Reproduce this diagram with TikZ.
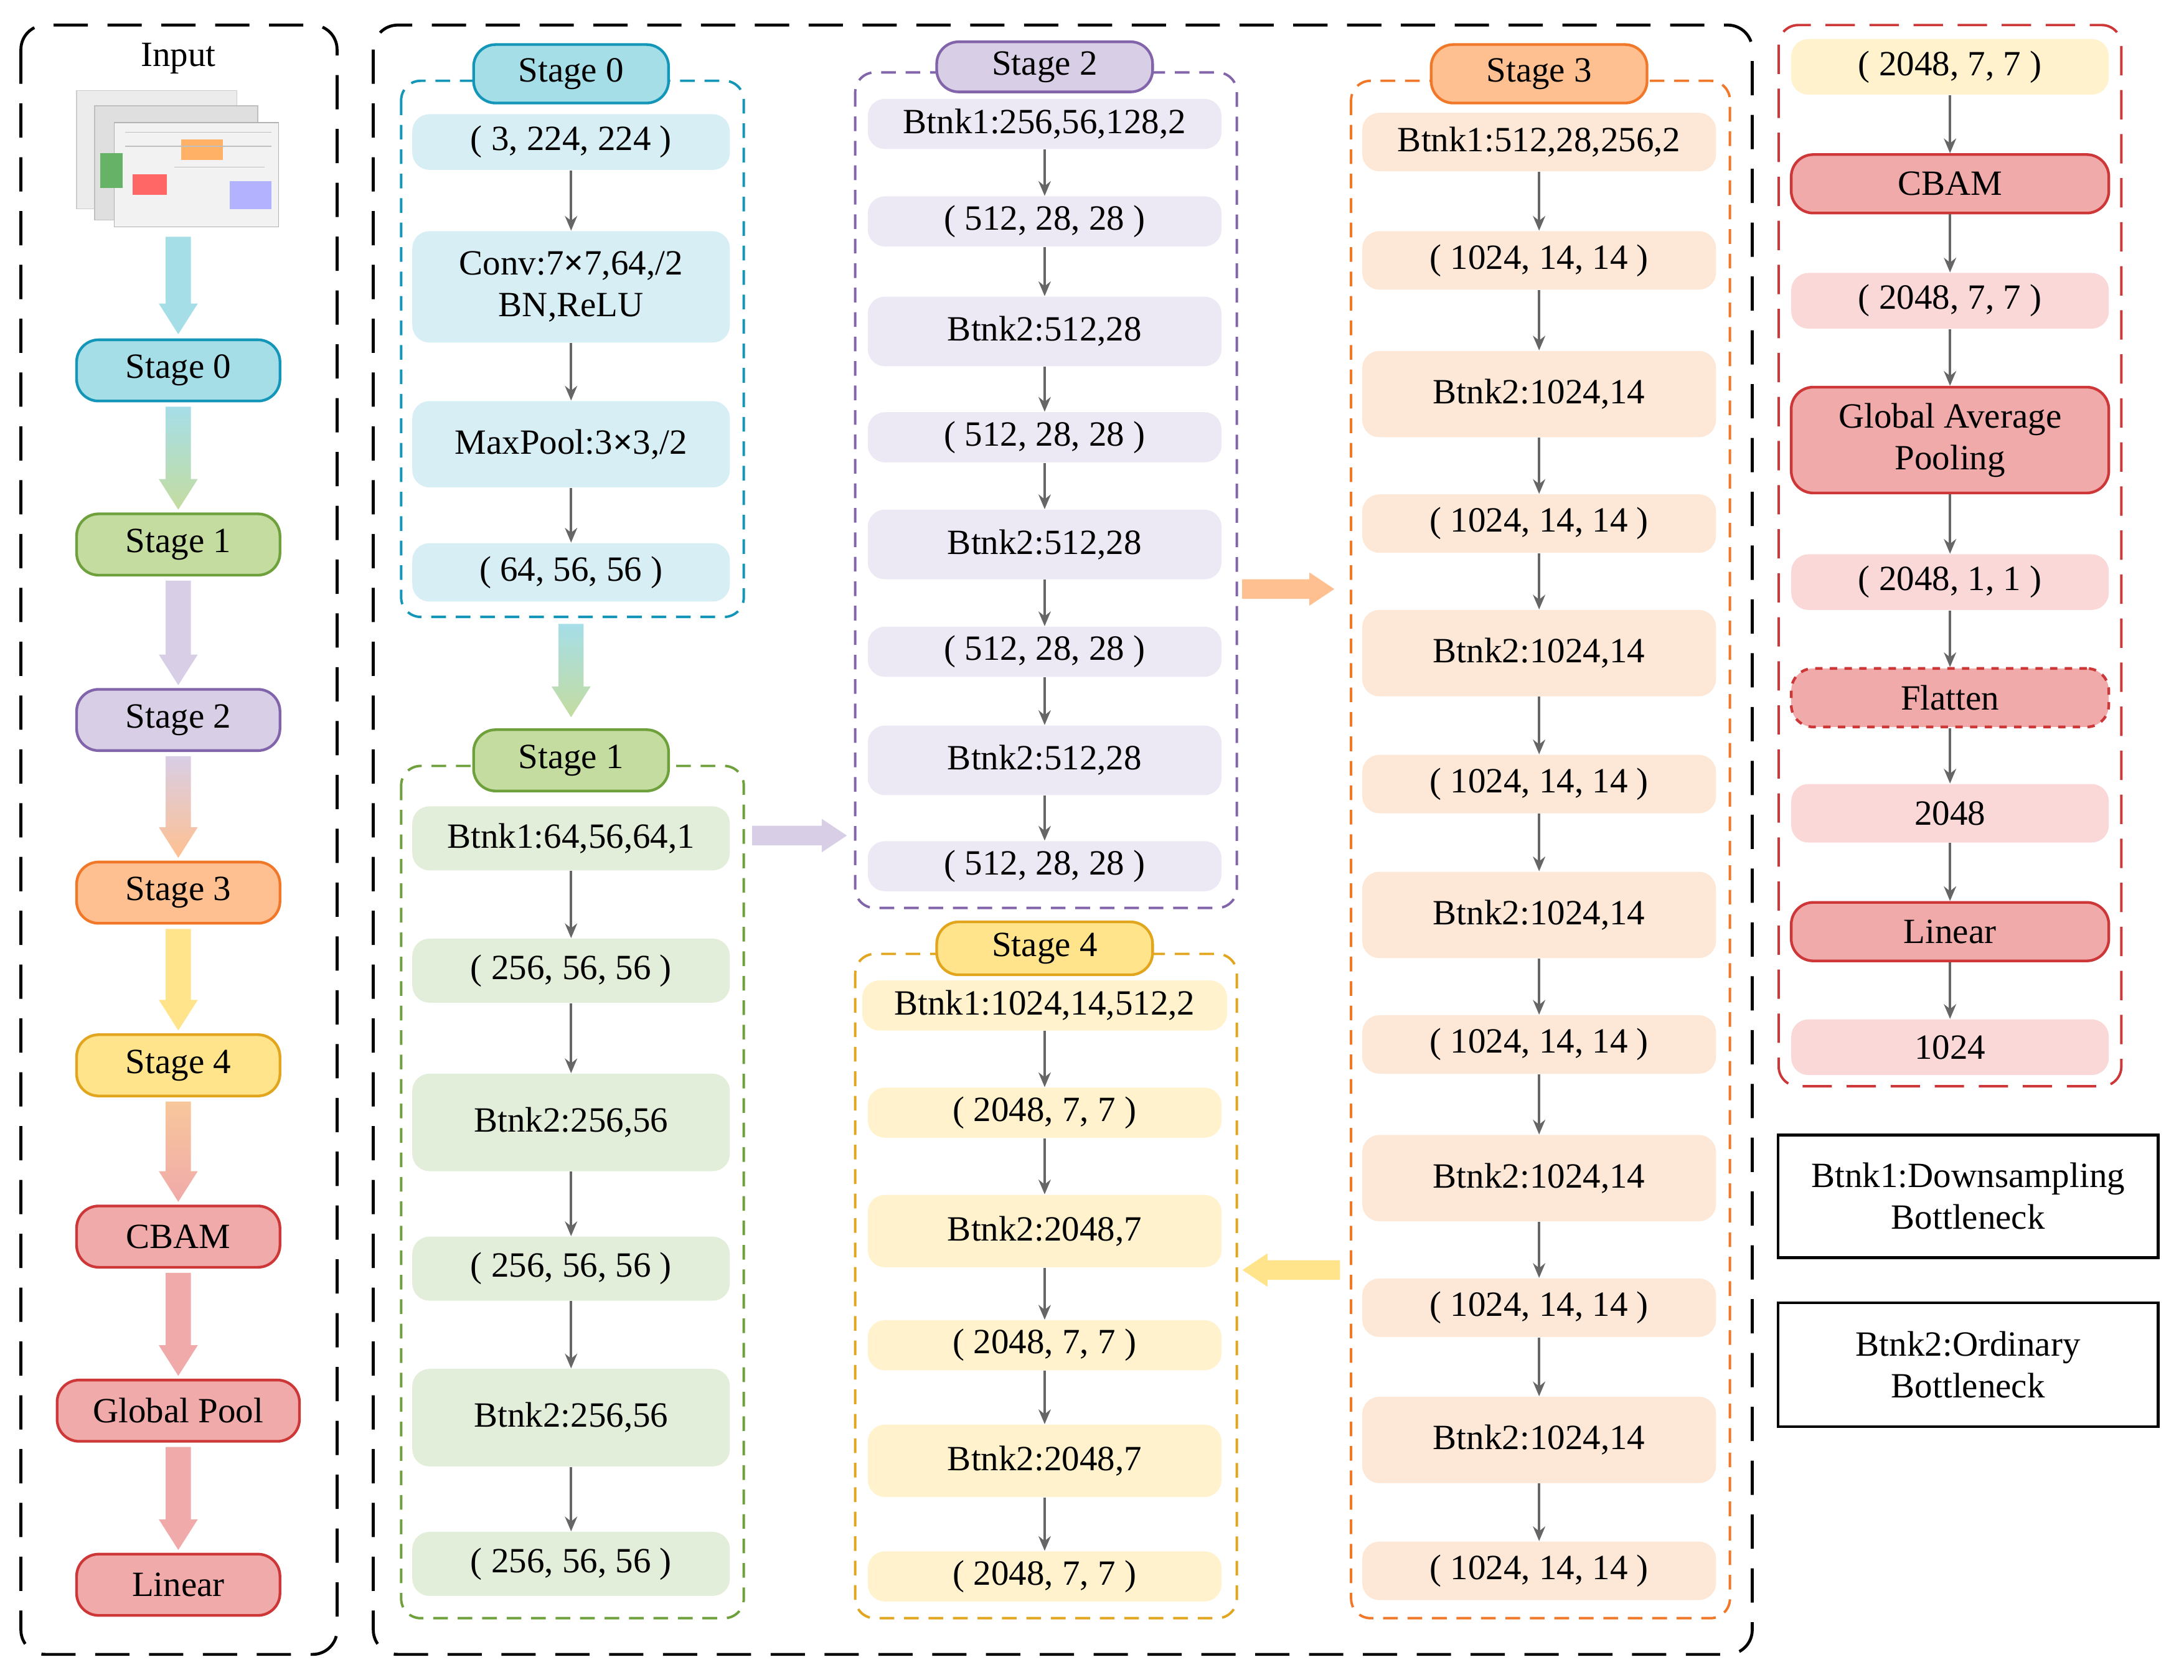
\documentclass[tikz,border=0pt]{standalone}
\usepackage{fontspec}
\setmainfont{Liberation Serif}
\usetikzlibrary{arrows.meta}
\definecolor{cA}{RGB}{166,222,232}\definecolor{cAb}{RGB}{20,150,185}\definecolor{cAl}{RGB}{214,238,244}
\definecolor{cB}{RGB}{196,220,160}\definecolor{cBb}{RGB}{110,160,60}\definecolor{cBl}{RGB}{226,238,218}
\definecolor{cC}{RGB}{216,206,230}\definecolor{cCb}{RGB}{130,100,170}\definecolor{cCl}{RGB}{236,232,244}
\definecolor{cD}{RGB}{255,192,145}\definecolor{cDb}{RGB}{240,120,40}\definecolor{cDl}{RGB}{253,231,214}
\definecolor{cE}{RGB}{255,228,140}\definecolor{cEb}{RGB}{225,165,30}\definecolor{cEl}{RGB}{255,242,204}
\definecolor{cF}{RGB}{240,170,170}\definecolor{cFb}{RGB}{205,55,55}\definecolor{cFl}{RGB}{250,216,216}
\tikzset{
 itm/.style={rounded corners=7pt,draw=none,align=center,inner sep=0pt,font=\fontsize{14.5}{17}\selectfont},
 ttl/.style={rounded corners=9pt,line width=1.1pt,align=center,inner sep=0pt,font=\fontsize{14.5}{17}\selectfont},
 grp/.style={line width=1pt,rounded corners=8pt,dash pattern=on 6pt off 4pt},
 outer/.style={line width=1.2pt,rounded corners=10pt,dash pattern=on 14pt off 8pt},
 ga/.style={-{Stealth[length=6pt,width=5pt]},draw=gray!80!black,line width=1pt}
}
\newcommand{\itm}[7]{\node[#6,minimum width=#4*0.02cm,minimum height=#5*0.02cm] (#1) at (#2,#3) {#7};}
\newcommand{\fatv}[5]{\shade[top color=#4,bottom color=#5] (#1-9,#2)--(#1+9,#2)--(#1+9,#3-22)--(#1+14,#3-22)--(#1,#3)--(#1-14,#3-22)--(#1-9,#3-22)--cycle;}
\newcommand{\fath}[5]{\shade[left color=#4,right color=#5] (#2,#1-7)--(#3-18,#1-7)--(#3-18,#1-12)--(#3,#1)--(#3-18,#1+12)--(#3-18,#1+7)--(#2,#1+7)--cycle;}
\newcommand{\fathl}[5]{\shade[left color=#5,right color=#4] (#2,#1-7)--(#3+18,#1-7)--(#3+18,#1-12)--(#3,#1)--(#3+18,#1+12)--(#3+18,#1+7)--(#2,#1+7)--cycle;}
\begin{document}
\begin{tikzpicture}[x=0.02cm,y=-0.02cm]
\useasboundingbox (0,0) rectangle (1568,1206);
% outer frames
\draw[outer] (15,18) rectangle (242,1188);
\draw[outer] (268,18) rectangle (1258,1188);
% left column
\node[font=\fontsize{14.5}{17}\selectfont] (inp) at (128,42) {Input};
\draw[fill=gray!15,draw=gray!40] (55,65) rectangle (170,150);
\draw[fill=gray!25,draw=gray!50] (68,76) rectangle (185,158);
\draw[fill=gray!10,draw=gray!60] (82,88) rectangle (200,163);
\fill[green!50!black!60] (72,110) rectangle (88,135);
\fill[red!60] (95,125) rectangle (120,140);
\fill[orange!60] (130,100) rectangle (160,115);
\fill[blue!30] (165,130) rectangle (195,150);
\draw[gray!50] (90,95)--(195,95) (90,105)--(195,105) (125,120)--(190,120);
\itm{l0}{128}{266}{146}{44}{ttl,fill=cA,draw=cAb}{Stage 0}
\itm{l1}{128}{391}{146}{44}{ttl,fill=cB,draw=cBb}{Stage 1}
\itm{l2}{128}{517}{146}{44}{ttl,fill=cC,draw=cCb}{Stage 2}
\itm{l3}{128}{641}{146}{44}{ttl,fill=cD,draw=cDb}{Stage 3}
\itm{l4}{128}{765}{146}{44}{ttl,fill=cE,draw=cEb}{Stage 4}
\itm{l5}{128}{888}{146}{44}{ttl,fill=cF,draw=cFb}{CBAM}
\itm{l6}{128}{1013}{174}{44}{ttl,fill=cF,draw=cFb}{Global Pool}
\itm{l7}{128}{1138}{146}{44}{ttl,fill=cF,draw=cFb}{Linear}
\fatv{128}{170}{240}{cA}{cA}
\fatv{128}{292}{366}{cA}{cB}
\fatv{128}{417}{492}{cC}{cC}
\fatv{128}{543}{616}{cC}{cD}
\fatv{128}{667}{740}{cE}{cE}
\fatv{128}{791}{863}{cE!50!cF}{cF}
\fatv{128}{914}{988}{cF}{cF}
\fatv{128}{1039}{1113}{cF}{cF}
% Stage 0
\draw[grp,draw=cAb] (288,58) rectangle (534,443);
\itm{t0}{410}{53}{140}{42}{ttl,fill=cA,draw=cAb}{Stage 0}
\itm{a1}{410}{102}{228}{40}{itm,fill=cAl}{( 3, 224, 224 )}
\itm{a2}{410}{206}{228}{80}{itm,fill=cAl}{Conv:7\textbf{×}7,64,/2\\BN,ReLU}
\itm{a3}{410}{319}{228}{62}{itm,fill=cAl}{MaxPool:3\textbf{×}3,/2}
\itm{a4}{410}{411}{228}{42}{itm,fill=cAl}{( 64, 56, 56 )}
\foreach \p/\q in {a1/a2,a2/a3,a3/a4} \draw[ga] (\p)--(\q);
\fatv{410}{448}{515}{cA}{cB}
% Stage 1
\draw[grp,draw=cBb] (288,550) rectangle (534,1162);
\itm{t1}{410}{546}{140}{44}{ttl,fill=cB,draw=cBb}{Stage 1}
\itm{b1}{410}{602}{228}{46}{itm,fill=cBl}{Btnk1:64,56,64,1}
\itm{b2}{410}{697}{228}{46}{itm,fill=cBl}{( 256, 56, 56 )}
\itm{b3}{410}{806}{228}{70}{itm,fill=cBl}{Btnk2:256,56}
\itm{b4}{410}{911}{228}{46}{itm,fill=cBl}{( 256, 56, 56 )}
\itm{b5}{410}{1018}{228}{70}{itm,fill=cBl}{Btnk2:256,56}
\itm{b6}{410}{1123}{228}{46}{itm,fill=cBl}{( 256, 56, 56 )}
\foreach \p/\q in {b1/b2,b2/b3,b3/b4,b4/b5,b5/b6} \draw[ga] (\p)--(\q);
\fath{600}{540}{608}{cC}{cC}
% Stage 2
\draw[grp,draw=cCb] (614,52) rectangle (888,652);
\itm{t2}{750}{48}{155}{36}{ttl,fill=cC,draw=cCb}{Stage 2}
\itm{c1}{750}{89}{254}{36}{itm,fill=cCl}{Btnk1:256,56,128,2}
\itm{c2}{750}{159}{254}{36}{itm,fill=cCl}{( 512, 28, 28 )}
\itm{c3}{750}{238}{254}{50}{itm,fill=cCl}{Btnk2:512,28}
\itm{c4}{750}{314}{254}{36}{itm,fill=cCl}{( 512, 28, 28 )}
\itm{c5}{750}{391}{254}{50}{itm,fill=cCl}{Btnk2:512,28}
\itm{c6}{750}{468}{254}{36}{itm,fill=cCl}{( 512, 28, 28 )}
\itm{c7}{750}{546}{254}{50}{itm,fill=cCl}{Btnk2:512,28}
\itm{c8}{750}{622}{254}{36}{itm,fill=cCl}{( 512, 28, 28 )}
\foreach \p/\q in {c1/c2,c2/c3,c3/c4,c4/c5,c5/c6,c6/c7,c7/c8} \draw[ga] (\p)--(\q);
\fath{423}{892}{958}{cD}{cD}
% Stage 4
\draw[grp,draw=cEb] (614,685) rectangle (888,1162);
\itm{t4}{750}{681}{155}{38}{ttl,fill=cE,draw=cEb}{Stage 4}
\itm{e1}{750}{722}{262}{36}{itm,fill=cEl}{Btnk1:1024,14,512,2}
\itm{e2}{750}{799}{254}{36}{itm,fill=cEl}{( 2048, 7, 7 )}
\itm{e3}{750}{884}{254}{52}{itm,fill=cEl}{Btnk2:2048,7}
\itm{e4}{750}{966}{254}{36}{itm,fill=cEl}{( 2048, 7, 7 )}
\itm{e5}{750}{1049}{254}{52}{itm,fill=cEl}{Btnk2:2048,7}
\itm{e6}{750}{1132}{254}{36}{itm,fill=cEl}{( 2048, 7, 7 )}
\foreach \p/\q in {e1/e2,e2/e3,e3/e4,e4/e5,e5/e6} \draw[ga] (\p)--(\q);
\fathl{912}{962}{892}{cE}{cE}
% Stage 3
\draw[grp,draw=cDb] (970,58) rectangle (1242,1162);
\itm{t3}{1105}{53}{155}{42}{ttl,fill=cD,draw=cDb}{Stage 3}
\itm{d1}{1105}{102}{254}{42}{itm,fill=cDl}{Btnk1:512,28,256,2}
\itm{d2}{1105}{187}{254}{42}{itm,fill=cDl}{( 1024, 14, 14 )}
\itm{d3}{1105}{283}{254}{62}{itm,fill=cDl}{Btnk2:1024,14}
\itm{d4}{1105}{376}{254}{42}{itm,fill=cDl}{( 1024, 14, 14 )}
\itm{d5}{1105}{469}{254}{62}{itm,fill=cDl}{Btnk2:1024,14}
\itm{d6}{1105}{563}{254}{42}{itm,fill=cDl}{( 1024, 14, 14 )}
\itm{d7}{1105}{657}{254}{62}{itm,fill=cDl}{Btnk2:1024,14}
\itm{d8}{1105}{750}{254}{42}{itm,fill=cDl}{( 1024, 14, 14 )}
\itm{d9}{1105}{846}{254}{62}{itm,fill=cDl}{Btnk2:1024,14}
\itm{d10}{1105}{939}{254}{42}{itm,fill=cDl}{( 1024, 14, 14 )}
\itm{d11}{1105}{1034}{254}{62}{itm,fill=cDl}{Btnk2:1024,14}
\itm{d12}{1105}{1128}{254}{42}{itm,fill=cDl}{( 1024, 14, 14 )}
\foreach \p/\q in {d1/d2,d2/d3,d3/d4,d4/d5,d5/d6,d6/d7,d7/d8,d8/d9,d9/d10,d10/d11,d11/d12} \draw[ga] (\p)--(\q);
% Right panel
\draw[grp,draw=cFb,dash pattern=on 12pt off 6pt] (1277,18) rectangle (1523,780);
\itm{f1}{1400}{48}{228}{40}{itm,fill=cEl}{( 2048, 7, 7 )}
\itm{f2}{1400}{132}{228}{42}{ttl,fill=cF,draw=cFb}{CBAM}
\itm{f3}{1400}{216}{228}{40}{itm,fill=cFl}{( 2048, 7, 7 )}
\itm{f4}{1400}{316}{228}{76}{ttl,fill=cF,draw=cFb}{Global Average\\Pooling}
\itm{f5}{1400}{418}{228}{40}{itm,fill=cFl}{( 2048, 1, 1 )}
\itm{f6}{1400}{501}{228}{42}{ttl,fill=cF,draw=cFb,dashed}{Flatten}
\itm{f7}{1400}{584}{228}{42}{itm,fill=cFl}{2048}
\itm{f8}{1400}{669}{228}{42}{ttl,fill=cF,draw=cFb}{Linear}
\itm{f9}{1400}{752}{228}{40}{itm,fill=cFl}{1024}
\foreach \p/\q in {f1/f2,f2/f3,f3/f4,f4/f5,f5/f6,f6/f7,f7/f8,f8/f9} \draw[ga] (\p)--(\q);
% legend
\node[draw,line width=1.2pt,minimum width=273*0.02cm,minimum height=88*0.02cm,align=center,inner sep=0pt,font=\fontsize{14.5}{17}\selectfont] (g1) at (1413,859) {Btnk1:Downsampling\\Bottleneck};
\node[draw,line width=1.2pt,minimum width=273*0.02cm,minimum height=89*0.02cm,align=center,inner sep=0pt,font=\fontsize{14.5}{17}\selectfont] (g2) at (1413,980) {Btnk2:Ordinary\\Bottleneck};
\end{tikzpicture}
\end{document}
